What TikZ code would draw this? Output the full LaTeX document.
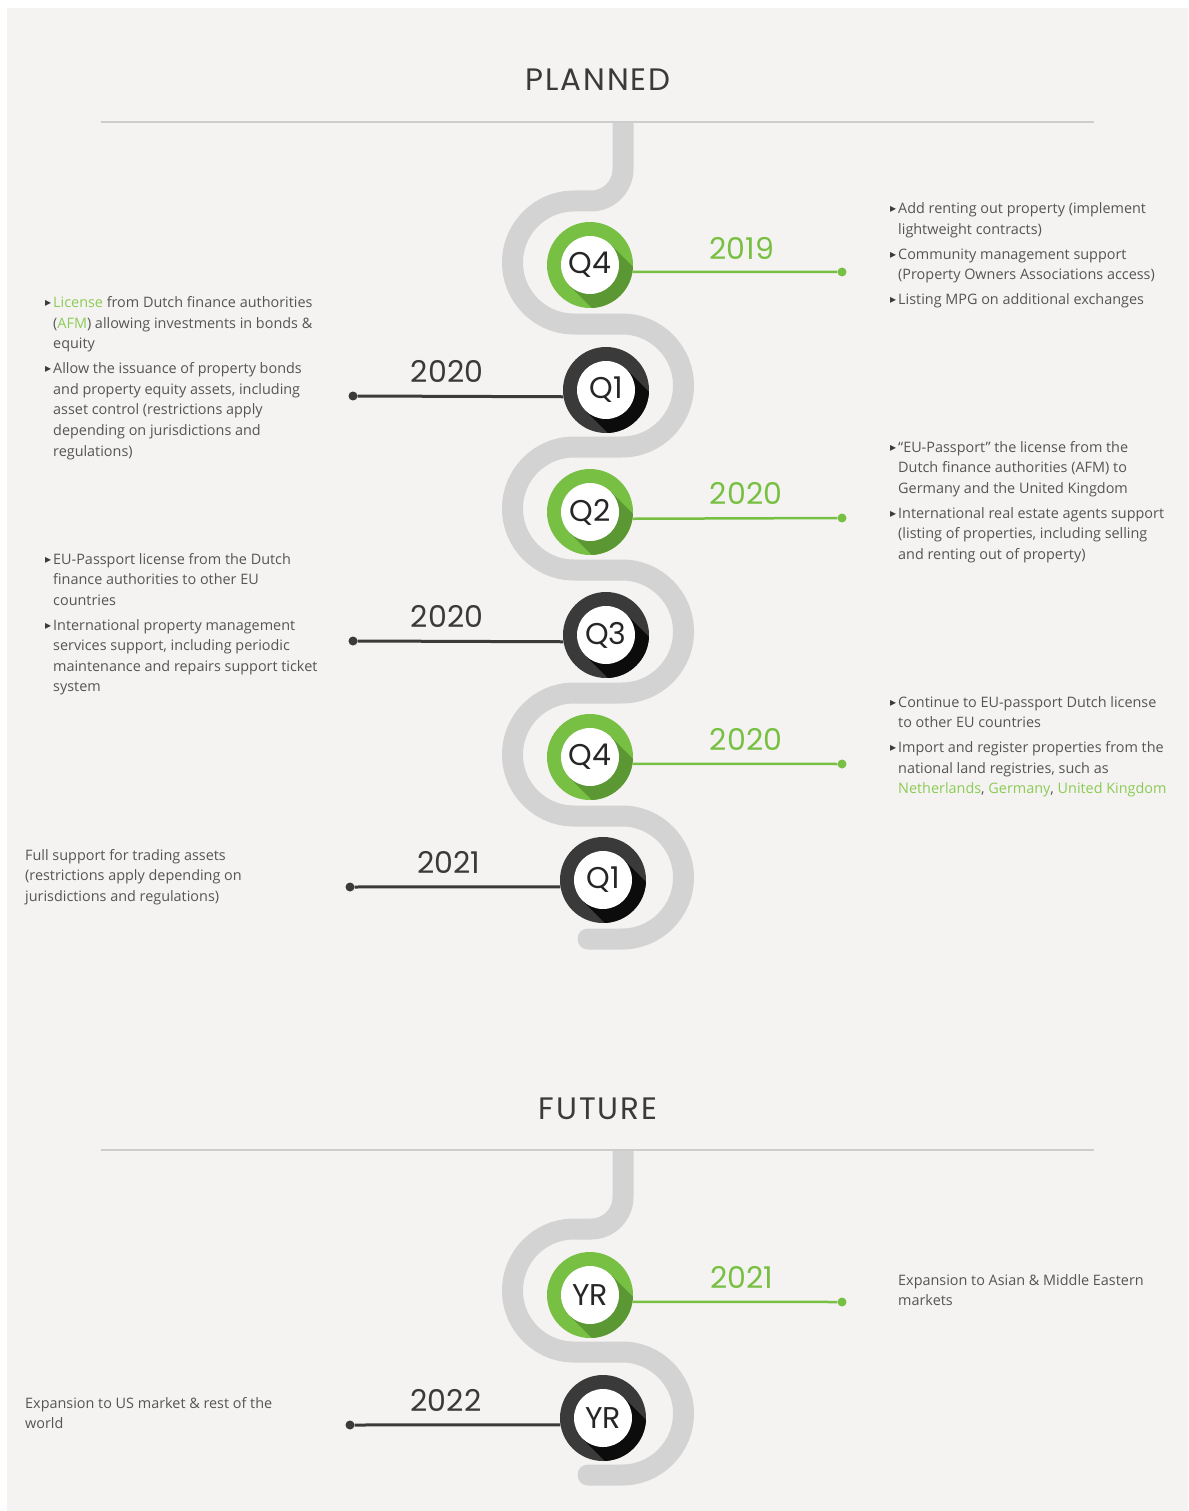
\documentclass[tikz,border=0pt]{standalone}
\usepackage{fontspec}
\setmainfont{Open Sans}
\newfontfamily\headfont{Poppins}
\newfontfamily\titlefont[LetterSpace=6]{Poppins}
\newfontfamily\symfont{DejaVu Sans}
\usetikzlibrary{calc}

\definecolor{panel}{HTML}{F4F3F1}
\definecolor{road}{HTML}{D3D3D3}
\definecolor{rulegray}{HTML}{CDCDCD}
\definecolor{leaf}{HTML}{78C043}
\definecolor{leafdark}{HTML}{5B9833}
\definecolor{coal}{HTML}{3A3A3A}
\definecolor{coaldark}{HTML}{0C0C0C}
\definecolor{ink}{HTML}{555555}
\definecolor{headink}{HTML}{3A3A3A}
\definecolor{hl}{HTML}{8CCB55}

\newcommand{\tri}{\llap{\raisebox{1pt}{\symfont\fontsize{12}{12}\selectfont\color{coal}▸}\hspace{2pt}}}
\newcommand{\hlt}[1]{{\color{hl}#1}}

\begin{document}
\begin{tikzpicture}[x=1pt, y=-1pt,
      txt/.style={anchor=base west, inner sep=0pt, text=ink, font={\fontsize{14.4}{20.5}\selectfont}},
      title/.style={inner sep=0pt, text=headink, font={\titlefont\fontsize{31}{31}\selectfont}},
      yrgreen/.style={inner sep=0pt, text=leaf, font={\headfont\fontsize{30}{30}\selectfont}},
      yrdark/.style={inner sep=0pt, text=coal, font={\headfont\fontsize{30}{30}\selectfont}},
      qbase/.style={circle, minimum size=86pt, inner sep=0pt, text=black!85,
        font={\headfont\fontsize{30}{30}\selectfont},
        path picture={
          \fill[#1] ($(path picture bounding box.center)+(45:29pt)$) -- ++(-45:120pt)
            -- ++(-135:58pt) -- ($(path picture bounding box.center)+(225:29pt)$) -- cycle;
          \fill[white] (path picture bounding box.center) circle[radius=29pt];
        }},
      greenq/.style={qbase=leafdark, fill=leaf},
      darkq/.style={qbase=coaldark, fill=coal},
      dot/.style={circle, fill=#1, minimum size=9pt, inner sep=0pt},
      gline/.style={draw=leaf, line width=2.5pt},
      kline/.style={draw=coal, line width=3pt},
      roadline/.style={draw=road, line width=21pt, line cap=round},
      rulebar/.style={draw=rulegray, line width=2pt},
    ]
      \useasboundingbox (0,0) rectangle (1188,1511);
      \fill[white] (0,0) rectangle (1188,1511);
      \fill[panel] (7,8) rectangle (1188,1511);

      \begin{scope}
        \clip (0,122) rectangle (1188,1100);
        \draw[roadline] (623,112) -- (623,169) arc[start angle=0, end angle=-90, radius=32pt]
          -- (574,201) arc[start angle=90, end angle=270, radius=61.5pt]
          -- (622,324) arc[start angle=90, end angle=-90, radius=61.5pt]
          -- (574,447) arc[start angle=90, end angle=270, radius=61.5pt]
          -- (622,570) arc[start angle=90, end angle=-90, radius=61.5pt]
          -- (574,693) arc[start angle=90, end angle=270, radius=61.5pt]
          -- (622,816) arc[start angle=90, end angle=-90, radius=61.5pt]
          -- (588,939);
      \end{scope}
      \begin{scope}
        \clip (0,1150) rectangle (1188,1511);
        \draw[roadline] (623,1140) -- (623,1197) arc[start angle=0, end angle=-90, radius=32pt]
          -- (574,1229) arc[start angle=90, end angle=270, radius=61.5pt]
          -- (622,1352) arc[start angle=90, end angle=-90, radius=61.5pt]
          -- (588,1475);
      \end{scope}

      \node[title] (planned) at (598,80) {PLANNED};
      \draw[rulebar] (101,122) -- (1094,122);
      \node[title] (future) at (598,1109) {FUTURE};
      \draw[rulebar] (101,1150) -- (1094,1150);

      \node[greenq] (q1) at (590,265) {Q4};
      \node[darkq]  (q2) at (606,390) {Q1};
      \node[greenq] (q3) at (590,512) {Q2};
      \node[darkq]  (q4) at (606,635) {Q3};
      \node[greenq] (q5) at (590,757) {Q4};
      \node[darkq]  (q6) at (603,880) {Q1};
      \node[greenq] (y1) at (590,1295) {YR};
      \node[darkq]  (y2) at (603,1418) {YR};

      \node[dot=leaf] (e1) at (842,272) {};
      \node[dot=coal] (e2) at (353,396) {};
      \node[dot=leaf] (e3) at (842,518) {};
      \node[dot=coal] (e4) at (353,641) {};
      \node[dot=leaf] (e5) at (842,764) {};
      \node[dot=coal] (e6) at (350,887) {};
      \node[dot=leaf] (e7) at (842,1302) {};
      \node[dot=coal] (e8) at (350,1425) {};

      \draw[gline] (q1.-9) -- (e1);
      \draw[kline] (e2) -- (q2.189);
      \draw[gline] (q3.-9) -- (e3);
      \draw[kline] (e4) -- (q4.189);
      \draw[gline] (q5.-9) -- (e5);
      \draw[kline] (e6) -- (q6.189);
      \draw[gline] (y1.-9) -- (e7);
      \draw[kline] (e8) -- (y2.189);

      \node[yrgreen] (t1) at (742,248) {2019};
      \node[yrdark]  (t2) at (447,371) {2020};
      \node[yrgreen] (t3) at (746,493) {2020};
      \node[yrdark]  (t4) at (447,616) {2020};
      \node[yrgreen] (t5) at (746,739) {2020};
      \node[yrdark]  (t6) at (449,862) {2021};
      \node[yrgreen] (t7) at (742,1277) {2021};
      \node[yrdark]  (t8) at (446,1400) {2022};

      \node[txt] (n1) at (898,214) {\begin{tabular}[t]{@{}l@{}}
        \tri Add renting out property (implement\\
        lightweight contracts)\\[4.5pt]
        \tri Community management support\\
        (Property Owners Associations access)\\[4.5pt]
        \tri Listing MPG on additional exchanges
      \end{tabular}};
      \node[txt] (n2) at (53,308) {\begin{tabular}[t]{@{}l@{}}
        \tri \hlt{License} from Dutch finance authorities\\
        (\hlt{AFM}) allowing investments in bonds \&\\
        equity\\[4.5pt]
        \tri Allow the issuance of property bonds\\
        and property equity assets, including\\
        asset control (restrictions apply\\
        depending on jurisdictions and\\
        regulations)
      \end{tabular}};
      \node[txt] (n3) at (898,452) {\begin{tabular}[t]{@{}l@{}}
        \tri “EU-Passport” the license from the\\
        Dutch finance authorities (AFM) to\\
        Germany and the United Kingdom\\[4.5pt]
        \tri International real estate agents support\\
        (listing of properties, including selling\\
        and renting out of property)
      \end{tabular}};
      \node[txt] (n4) at (53,564) {\begin{tabular}[t]{@{}l@{}}
        \tri EU-Passport license from the Dutch\\
        finance authorities to other EU\\
        countries\\[4.5pt]
        \tri International property management\\
        services support, including periodic\\
        maintenance and repairs support ticket\\
        system
      \end{tabular}};
      \node[txt] (n5) at (898,707) {\begin{tabular}[t]{@{}l@{}}
        \tri Continue to EU-passport Dutch license\\
        to other EU countries\\[4.5pt]
        \tri Import and register properties from the\\
        national land registries, such as\\
        \hlt{Netherlands}, \hlt{Germany}, \hlt{United Kingdom}
      \end{tabular}};
      \node[txt] (n6) at (25,860) {\begin{tabular}[t]{@{}l@{}}
        Full support for trading assets\\
        (restrictions apply depending on\\
        jurisdictions and regulations)
      \end{tabular}};
      \node[txt] (n7) at (898,1285) {\begin{tabular}[t]{@{}l@{}}
        Expansion to Asian \& Middle Eastern\\
        markets
      \end{tabular}};
      \node[txt] (n8) at (25,1408) {\begin{tabular}[t]{@{}l@{}}
        Expansion to US market \& rest of the\\
        world
      \end{tabular}};
    \end{tikzpicture}
\end{document}
